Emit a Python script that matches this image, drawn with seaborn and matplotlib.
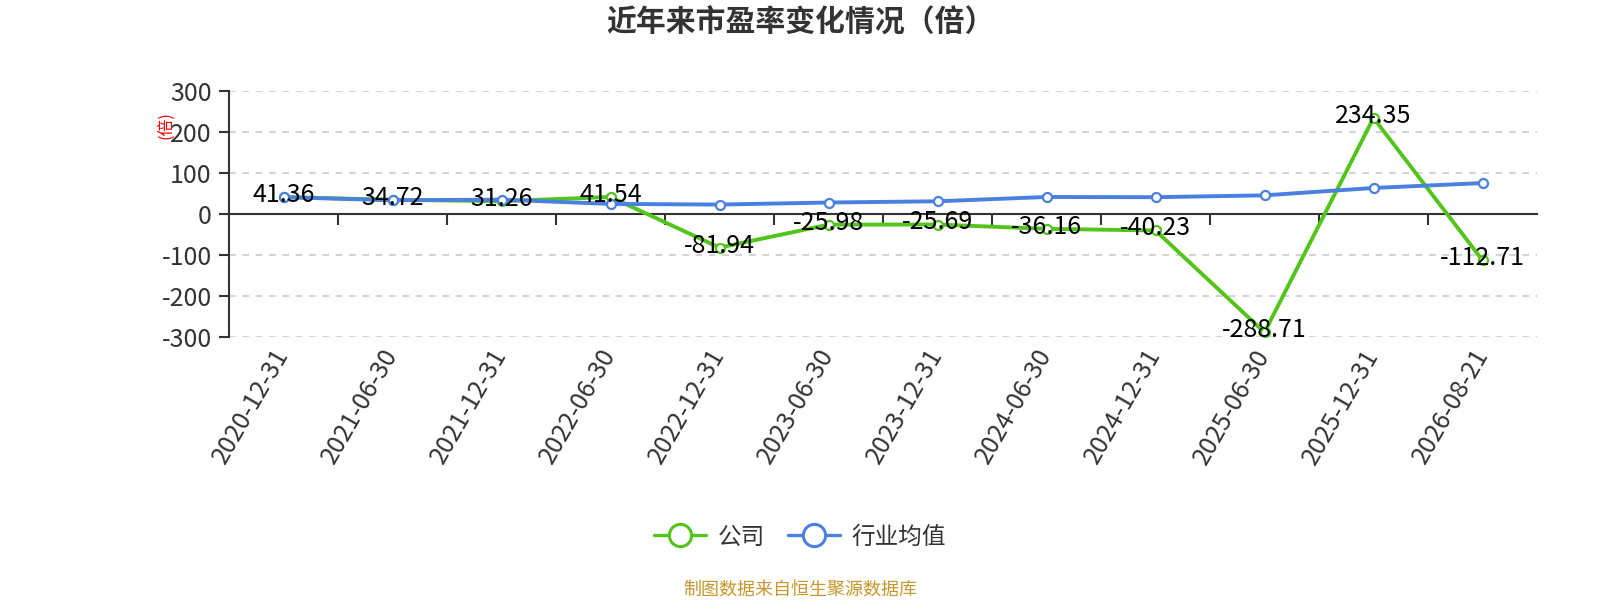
import numpy as np
import pandas as pd
import matplotlib
matplotlib.use("Agg")
import matplotlib.pyplot as plt
import seaborn as sns
from matplotlib.lines import Line2D

dates = ["2020-12-31", "2021-06-30", "2021-12-31", "2022-06-30", "2022-12-31",
         "2023-06-30", "2023-12-31", "2024-06-30", "2024-12-31", "2025-06-30",
         "2025-12-31", "2026-08-21"]
company = [41.36, 34.72, 31.26, 41.54, -81.94, -25.98, -25.69, -36.16, -40.23,
           -288.71, 234.35, -112.71]
industry = [41.0, 33.5, 35.0, 24.6, 23.0, 28.0, 31.0, 41.5, 41.0, 45.5, 63.5, 75.5]
yticks = [-300, -200, -100, 0, 100, 200, 300]
series_names = ["公司", "行业均值"]

GREEN = "#52c41a"
BLUE = "#4a80e0"
TXT = "#333333"

sns.set_theme(style="white")
plt.rcParams['font.family'] = ['Noto Sans CJK SC', 'DejaVu Sans']
plt.rcParams['axes.unicode_minus'] = False

fig = plt.figure(figsize=(16, 6), dpi=100)
ax = fig.add_axes([229/1600, 1-337/600, (1537-229)/1600, (337-91)/600])

pos = np.arange(len(dates))
df = pd.DataFrame({"pos": pos, "company": company, "industry": industry})

sns.lineplot(data=df, x="pos", y="company", ax=ax, color=GREEN, lw=2.8,
             marker="o", markersize=6.5, markerfacecolor="white",
             markeredgecolor=GREEN, markeredgewidth=1.6, zorder=3)
sns.lineplot(data=df, x="pos", y="industry", ax=ax, color=BLUE, lw=2.8,
             marker="o", markersize=6.5, markerfacecolor="white",
             markeredgecolor=BLUE, markeredgewidth=1.6, zorder=4)

for x, v in zip(pos, company):
    ax.annotate(f"{v:.2f}", (x, v), xytext=(0, 1.5), textcoords="offset points",
                ha="center", va="center", fontsize=18, color="black", zorder=6)

ax.set_xlim(-0.5, len(dates) - 0.5)
ax.set_ylim(min(yticks), max(yticks))
ax.set_yticks(yticks)
ax.set_yticklabels([str(t) for t in yticks], fontsize=18, color=TXT)
ax.yaxis.grid(True, linestyle=(0, (4, 4)), color="#cccccc", lw=1.2)
ax.xaxis.grid(False)
ax.set_xlabel("")
ax.set_ylabel("")

for s in ["top", "right"]:
    ax.spines[s].set_visible(False)
ax.spines["left"].set_color(TXT)
ax.spines["left"].set_linewidth(1.5)
ax.spines["bottom"].set_position(("data", 0))
ax.spines["bottom"].set_color(TXT)
ax.spines["bottom"].set_linewidth(1.5)
ax.tick_params(axis="y", which="major", length=7.5, width=1.5, color=TXT,
               direction="out", left=True, pad=5)

ax.set_xticks(pos)
ax.set_xticklabels([])
ax.tick_params(axis="x", which="major", length=0)
ax.set_xticks(pos[:-1] + 0.5, minor=True)
ax.tick_params(axis="x", which="minor", length=8, width=1.5, color=TXT,
               direction="out", bottom=True)

sec = ax.secondary_xaxis(0)
sec.set_xticks(pos)
sec.set_xticklabels(dates, rotation=60, ha="right", va="center",
                    rotation_mode="anchor", fontsize=18, color=TXT)
sec.tick_params(axis="x", length=0, pad=10)
sec.spines["bottom"].set_visible(False)

fig.text(0.5, 1-23/600, "近年来市盈率变化情况（倍）", ha="center", va="center",
         fontsize=21.5, fontweight="bold", color=TXT)
fig.text(166/1600, 1-125/600, "(倍)", ha="center", va="center", rotation=90,
         fontsize=12, color="red")

handles = [Line2D([], [], color=GREEN, lw=2.4, marker="o", markersize=16,
                  markerfacecolor="white", markeredgecolor=GREEN, markeredgewidth=2.2),
           Line2D([], [], color=BLUE, lw=2.4, marker="o", markersize=16,
                  markerfacecolor="white", markeredgecolor=BLUE, markeredgewidth=2.2)]
fig.legend(handles, series_names, loc="center", bbox_to_anchor=(0.5, 1-537/600),
           ncol=2, frameon=False, fontsize=17, handlelength=2.2,
           columnspacing=1.0, handletextpad=0.5, labelcolor=TXT)

fig.text(0.5, 1-590/600, "制图数据来自恒生聚源数据库", ha="center", va="center",
         fontsize=13, color="#c9962c")

fig.savefig("out.png", dpi=100, facecolor="white")
